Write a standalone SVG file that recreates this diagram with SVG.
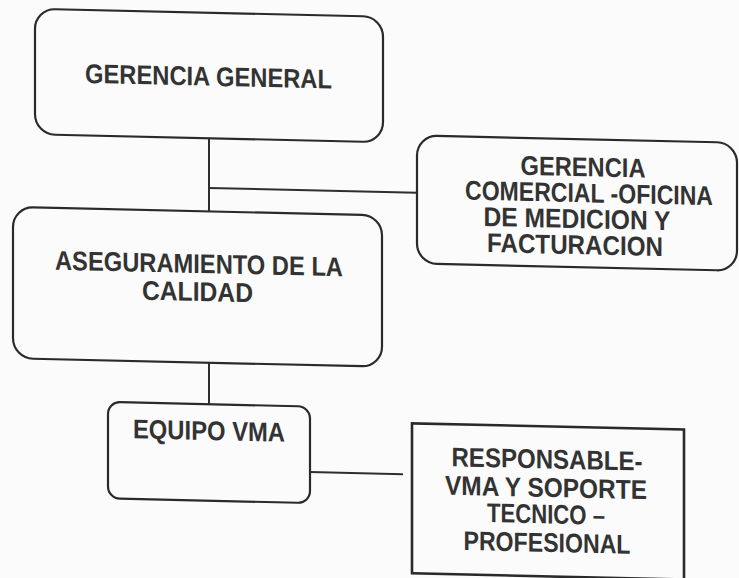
<svg xmlns="http://www.w3.org/2000/svg" width="739" height="578" viewBox="0 0 739 578">
<style>
.box{fill:none;stroke:#2a2a2a;stroke-width:2.2}
.sq{fill:none;stroke:#2a2a2a;stroke-width:2.6}
.ln{fill:none;stroke:#2e2e2e;stroke-width:2}
.t{font-family:"Liberation Sans",Arial,sans-serif;font-weight:bold;font-size:27px;fill:#333;text-anchor:middle}
</style>
<rect x="0" y="0" width="739" height="578" fill="#fbfbfb"/>
<g transform="skewY(1.3)">
<g id="connectors">
<line class="ln" x1="209" y1="133.5" x2="209" y2="206.7"/>
<line class="ln" x1="209" y1="183.3" x2="417" y2="183.3"/>
<line class="ln" x1="209" y1="358" x2="209" y2="399.5"/>
<line class="ln" x1="310" y1="465" x2="403" y2="465"/>
</g>
<g id="gerencia-general">
<rect class="box" x="35" y="8" width="348" height="125.5" rx="20" ry="20"/>
<text class="t" x="208.5" y="81" textLength="247" lengthAdjust="spacingAndGlyphs">GERENCIA GENERAL</text>
</g>
<g id="gerencia-comercial">
<rect class="box" x="417" y="126" width="320" height="128" rx="20" ry="20"/>
<text class="t" x="583" y="163" textLength="125" lengthAdjust="spacingAndGlyphs">GERENCIA</text>
<text class="t" x="589" y="189" textLength="248" lengthAdjust="spacingAndGlyphs">COMERCIAL -OFICINA</text>
<text class="t" x="577" y="215" textLength="187" lengthAdjust="spacingAndGlyphs">DE MEDICION Y</text>
<text class="t" x="575" y="241" textLength="176" lengthAdjust="spacingAndGlyphs">FACTURACION</text>
</g>
<g id="aseguramiento">
<rect class="box" x="13" y="206.7" width="369" height="151.3" rx="20" ry="20"/>
<text class="t" x="199" y="268.5" textLength="288" lengthAdjust="spacingAndGlyphs">ASEGURAMIENTO DE LA</text>
<text class="t" x="197.5" y="296.5" textLength="111" lengthAdjust="spacingAndGlyphs">CALIDAD</text>
</g>
<g id="equipo-vma">
<rect class="box" x="108" y="399.5" width="202" height="96.5" rx="12" ry="12"/>
<text class="t" x="209" y="435.3" textLength="152" lengthAdjust="spacingAndGlyphs">EQUIPO VMA</text>
</g>
<g id="responsable">
<rect class="sq" x="412" y="414" width="272" height="150"/>
<text class="t" x="547" y="456" textLength="191" lengthAdjust="spacingAndGlyphs">RESPONSABLE-</text>
<text class="t" x="546" y="484.5" textLength="202" lengthAdjust="spacingAndGlyphs">VMA Y SOPORTE</text>
<text class="t" x="546" y="511" textLength="118" lengthAdjust="spacingAndGlyphs">TECNICO –</text>
<text class="t" x="547" y="539.5" textLength="167" lengthAdjust="spacingAndGlyphs">PROFESIONAL</text>
</g>
</g>
</svg>
